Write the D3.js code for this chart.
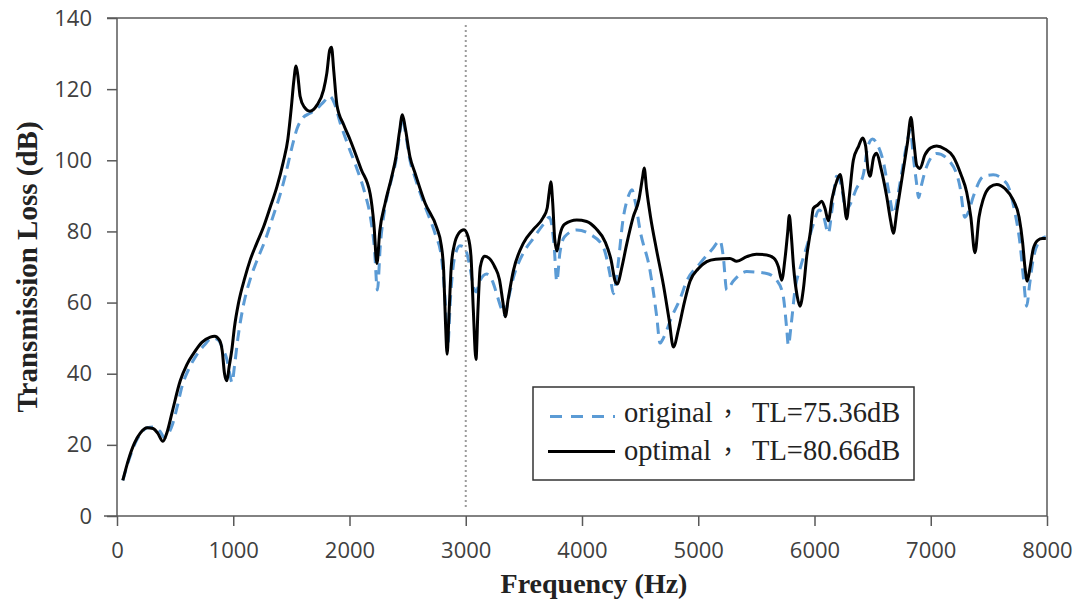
<!DOCTYPE html>
<html>
<head>
<meta charset="utf-8">
<script src="https://cdn.jsdelivr.net/npm/d3@7"></script>
<style>
  html, body { margin: 0; padding: 0; background: #fff; }
  svg { display: block; }
</style>
</head>
<body>
<svg id="chart" width="1076" height="605"></svg>
<script>
// ---------- DATA ----------
const xTicks = [0, 1000, 2000, 3000, 4000, 5000, 6000, 7000, 8000];
const yTicks = [0, 20, 40, 60, 80, 100, 120, 140];
const markerFreq = 3000;

const freqOptimal = [50,100,150,200,260,310,350,395,430,473,544,600,659,730,802,840,880,905,925,945,965,989,1010,1046,1100,1146,1200,1261,1320,1376,1430,1470,1500,1520,1540,1555,1575,1610,1660,1720,1777,1805,1830,1845,1865,1892,1950,2006,2100,2178,2210,2236,2260,2307,2360,2400,2430,2455,2480,2520,2565,2650,2751,2790,2810,2825,2840,2855,2875,2900,2940,2985,3020,3045,3065,3088,3105,3125,3160,3200,3250,3290,3320,3340,3365,3410,3496,3580,3668,3700,3718,3732,3748,3765,3785,3810,3850,3955,4040,4120,4200,4250,4285,4305,4340,4385,4440,4490,4520,4535,4555,4590,4640,4700,4750,4786,4830,4880,4929,5000,5073,5150,5273,5331,5417,5500,5589,5650,5690,5718,5745,5770,5783,5800,5820,5850,5875,5905,5933,5965,5990,6030,6062,6090,6119,6150,6190,6220,6250,6277,6300,6334,6380,6414,6440,6460,6477,6510,6535,6570,6620,6655,6678,6710,6764,6800,6830,6855,6880,6907,6950,7000,7051,7120,7194,7260,7309,7345,7380,7415,7451,7510,7567,7640,7710,7760,7790,7810,7830,7855,7881,7920,7960,7990];
const tlOptimal = [10,16,20.5,23.3,24.8,24.6,23.3,21,23.5,29,38,42.5,45.7,48.8,50.3,50.5,49.5,46.5,40,38,42,47,53,60,67,72,76.5,81.3,87,92.6,99.5,106,115,122,126.5,124,118,115,113.8,115.5,119.8,124.5,131,131.8,125,115.5,110,105.7,97.5,90.5,82,71,80,88,95,101,108,112.8,109,101,96.3,88,81,76,69,55,45.5,56,70,76,79.5,80.5,78.5,73,58,44,58,70,73,72.5,70,66.5,60,56,61,69,76.7,80.5,84,86.5,91,94,88,78,74.5,79,82,83.2,82.8,80.8,77,72,66,65.2,69.5,76.5,84,89,95,97.8,92,84,75,65,55,47.5,52.5,60,66,69.5,71.5,72.2,72.4,71.6,72.9,73.6,73.4,72.5,70,66.3,72,80,84.5,79,70,62,59,64,73,80,86.5,87.5,88.5,86.5,83,89,94,96,90,83.5,90,100,104,106.3,104,97.5,95.5,101,102,98,90,83,79.5,86,97.3,105,112,105,98.5,97.7,101.5,103.5,104,103.2,101,96,91,84,74,84,89,92.5,93.2,92,88.8,84,77,70,66,70,75,77.5,78,78];

const freqOriginal = [50,100,150,200,260,320,370,410,440,480,520,560,620,680,750,820,870,910,945,970,990,1010,1040,1080,1150,1200,1280,1340,1400,1450,1500,1550,1600,1660,1720,1780,1830,1870,1920,1990,2060,2130,2180,2215,2240,2265,2307,2360,2400,2430,2455,2480,2520,2565,2650,2740,2790,2820,2845,2870,2900,2950,2990,3030,3070,3090,3120,3180,3230,3270,3310,3335,3360,3410,3496,3580,3668,3720,3760,3783,3810,3850,3955,4070,4184,4240,4270,4300,4356,4400,4430,4460,4499,4585,4643,4671,4700,4772,4843,4900,5015,5120,5187,5215,5245,5300,5417,5589,5675,5730,5760,5775,5800,5832,5880,5933,5990,6040,6080,6119,6150,6190,6230,6270,6305,6360,6420,6460,6500,6540,6592,6640,6680,6735,6790,6825,6850,6878,6895,6920,6964,7051,7165,7251,7294,7330,7366,7452,7537,7653,7720,7770,7800,7825,7850,7880,7930,7990];
const tlOriginal = [10,15.5,20,23,24.8,25,23.8,22,23,26,31,36.5,41.5,45,48,50,49.5,47,44,40,37.5,42,50,58,67,71.5,78,84,90,96,103,109,112,113.2,114.5,116.5,118,116,110.5,104,98,91,84,75,63.5,76,87,94.5,100,107,112,108,100,95,87,79,73,62,48,62,72,76,75.5,71,64,63,66,68,66,62,58,56.5,60,67,74,78,82,84,76,66,74,78.5,80.4,79.2,75.5,68,62.5,68,84,90,91.7,88,80.4,69,56,48.6,50,56,61,66,71,75,77.4,73,63.5,66,68.7,68.2,66.3,62,53,48,54,63.5,70,75.7,82,86,84,79.5,86,95.5,93,86,87.5,92,96,104,106,104.5,99.6,91,85,93.5,104,108.5,101,93.5,89.5,93,98.2,101.9,99.6,92.6,84,86,89.8,95.4,95.9,93.5,86,76,66,59,65,72,77,78.5];

const legendLabels = ["original", "optimal"];
const legendValues = ["TL=75.36dB", "TL=80.66dB"];

// ---------- CHART ----------
const svg = d3.select("#chart");
const mLeft = 117, mRight = 1047, mTop = 18, mBottom = 516;
const axisColor = "#595959";

const x = d3.scaleLinear().domain([0, 8000]).range([mLeft, mRight]);
const y = d3.scaleLinear().domain([0, 140]).range([mBottom, mTop]);

// frame lines
svg.append("line").attr("x1", 107).attr("x2", mRight).attr("y1", mTop).attr("y2", mTop)
  .attr("stroke", axisColor).attr("stroke-width", 1.5);
svg.append("line").attr("x1", mRight).attr("x2", mRight).attr("y1", mTop).attr("y2", mBottom)
  .attr("stroke", axisColor).attr("stroke-width", 1.5);
svg.append("line").attr("x1", 104).attr("x2", mRight).attr("y1", mBottom).attr("y2", mBottom)
  .attr("stroke", axisColor).attr("stroke-width", 1.5);
svg.append("line").attr("x1", mLeft).attr("x2", mLeft).attr("y1", mTop).attr("y2", mBottom)
  .attr("stroke", axisColor).attr("stroke-width", 1.5);

// axes
const yAxis = svg.append("g").attr("transform", `translate(${mLeft},0)`)
  .call(d3.axisLeft(y).tickValues(yTicks).tickSize(10).tickPadding(15).tickFormat(d3.format("d")));
const xAxis = svg.append("g").attr("transform", `translate(0,${mBottom})`)
  .call(d3.axisBottom(x).tickValues(xTicks).tickSize(10).tickPadding(16).tickFormat(d3.format("d")));
[yAxis, xAxis].forEach(g => {
  g.select(".domain").remove();
  g.selectAll(".tick line").attr("stroke", axisColor).attr("stroke-width", 1.5);
  g.selectAll(".tick text").attr("fill", "#404040")
    .style("font-family", "'Open Sans', 'DejaVu Sans', sans-serif").style("font-size", "22px");
});

// dotted marker line
svg.append("line")
  .attr("x1", x(markerFreq)).attr("x2", x(markerFreq))
  .attr("y1", 25).attr("y2", 510)
  .attr("stroke", "#9a9a9a").attr("stroke-width", 2)
  .attr("stroke-dasharray", "2,3");

const line = d3.line().x(d => x(d[0])).y(d => y(d[1])).curve(d3.curveMonotoneX);
const origData = freqOriginal.map((f, i) => [f, tlOriginal[i]]);
const optData = freqOptimal.map((f, i) => [f, tlOptimal[i]]);

svg.append("path").datum(origData).attr("d", line)
  .attr("fill", "none").attr("stroke", "#5b9bd5").attr("stroke-width", 3)
  .attr("stroke-dasharray", "11,7");
svg.append("path").datum(optData).attr("d", line)
  .attr("fill", "none").attr("stroke", "#000").attr("stroke-width", 3)
  .attr("stroke-linejoin", "round");

// axis titles
svg.append("text").attr("x", 594).attr("y", 593).attr("text-anchor", "middle")
  .style("font-family", "'Liberation Serif', 'Times New Roman', serif")
  .style("font-weight", "bold").style("font-size", "28px").attr("fill", "#222")
  .text("Frequency (Hz)");
svg.append("text").attr("transform", "translate(37,267) rotate(-90)").attr("text-anchor", "middle")
  .style("font-family", "'Liberation Serif', 'Times New Roman', serif")
  .style("font-weight", "bold").style("font-size", "29px").attr("fill", "#222")
  .text("Transmission Loss (dB)");

// legend
const lg = svg.append("g");
lg.append("rect").attr("x", 533).attr("y", 387).attr("width", 381).attr("height", 93)
  .attr("fill", "#fff").attr("stroke", "#333").attr("stroke-width", 1.5);
const rowsY = [416.5, 451.5];
const baseY = [422, 460];
lg.append("line").attr("x1", 550).attr("x2", 615).attr("y1", rowsY[0]).attr("y2", rowsY[0])
  .attr("stroke", "#5b9bd5").attr("stroke-width", 3).attr("stroke-dasharray", "12,9");
lg.append("line").attr("x1", 548).attr("x2", 615).attr("y1", rowsY[1]).attr("y2", rowsY[1])
  .attr("stroke", "#000").attr("stroke-width", 3);
legendLabels.forEach((lab, i) => {
  const t = lg.append("text").attr("y", baseY[i])
    .style("font-family", "'Liberation Serif', 'Times New Roman', serif")
    .style("font-size", "28.5px").attr("fill", "#222");
  t.append("tspan").attr("x", 624).text(lab);
  t.append("tspan").attr("x", 716).style("font-family", "'Noto Sans CJK TC'").style("font-size", "24px").text("，");
  t.append("tspan").attr("x", 752).text(legendValues[i]);
});
</script>
</body>
</html>
